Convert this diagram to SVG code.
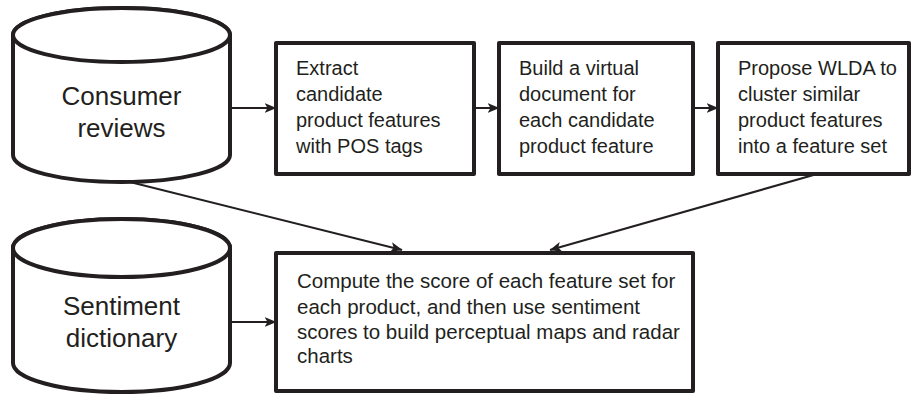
<svg xmlns="http://www.w3.org/2000/svg" width="913" height="397" viewBox="0 0 913 397">
<defs>
<marker id="ah" viewBox="0 0 12 10" refX="11.5" refY="5" markerWidth="12" markerHeight="10" markerUnits="userSpaceOnUse" orient="auto">
<path d="M0,0 L12,5 L0,10 L3,5 Z" fill="#231f20"/>
</marker>
<style>
.box{fill:#fff;stroke:#231f20;stroke-width:4;stroke-linejoin:round}
.cyl{fill:#fff;stroke:#231f20;stroke-width:4}
.con{fill:none;stroke:#231f20;stroke-width:2;marker-end:url(#ah)}
.t{font-family:"Liberation Sans",Arial,sans-serif;font-size:20px;fill:#231f20}
.tb{font-family:"Liberation Sans",Arial,sans-serif;font-size:20.5px;fill:#231f20}
.big{font-family:"Liberation Sans",Arial,sans-serif;font-size:26px;fill:#231f20;text-anchor:middle}
</style>
</defs>
<rect width="913" height="397" fill="#fff"/>
<g id="connectors">
<line class="con" x1="230" y1="108" x2="276" y2="108"/>
<line class="con" x1="474" y1="108" x2="499" y2="108"/>
<line class="con" x1="693" y1="108" x2="718" y2="108"/>
<line class="con" x1="130" y1="182" x2="402" y2="250"/>
<line class="con" x1="817" y1="174" x2="550" y2="250"/>
<line class="con" x1="230" y1="322" x2="276" y2="322"/>
</g>
<g id="consumer-reviews">
<path class="cyl" d="M13,35 L13,155 A108.5,27 0 0 0 230,155 L230,35 A108.5,27 0 0 0 13,35 Z"/>
<ellipse class="cyl" cx="121.5" cy="35" rx="108.5" ry="27" fill="none"/>
<text class="big" x="121.5" y="105">Consumer</text>
<text class="big" x="121.5" y="137">reviews</text>
</g>
<g id="extract">
<rect class="box" x="276" y="43" width="198" height="131"/>
<text class="t" x="296" y="75">Extract</text>
<text class="t" x="296" y="101">candidate</text>
<text class="t" x="296" y="127">product features</text>
<text class="t" x="296" y="153">with POS tags</text>
</g>
<g id="build">
<rect class="box" x="499" y="43" width="194" height="131"/>
<text class="t" x="519" y="75">Build a virtual</text>
<text class="t" x="519" y="101">document for</text>
<text class="t" x="519" y="127">each candidate</text>
<text class="t" x="519" y="153">product feature</text>
</g>
<g id="wlda">
<rect class="box" x="718" y="43" width="191" height="131"/>
<text class="t" x="738" y="75">Propose WLDA to</text>
<text class="t" x="738" y="101">cluster similar</text>
<text class="t" x="738" y="127">product features</text>
<text class="t" x="738" y="153">into a feature set</text>
</g>
<g id="sentiment-dictionary">
<path class="cyl" d="M13,248 L13,363 A108.5,29 0 0 0 230,363 L230,248 A108.5,29 0 0 0 13,248 Z"/>
<ellipse class="cyl" cx="121.5" cy="248" rx="108.5" ry="29" fill="none"/>
<text class="big" x="121.5" y="315">Sentiment</text>
<text class="big" x="121.5" y="347">dictionary</text>
</g>
<g id="compute">
<rect class="box" x="276" y="253" width="417" height="138"/>
<text class="tb" x="297" y="288">Compute the score of each feature set for</text>
<text class="tb" x="297" y="314">each product, and then use sentiment</text>
<text class="tb" x="297" y="339">scores to build perceptual maps and radar</text>
<text class="tb" x="297" y="363">charts</text>
</g>
</svg>
